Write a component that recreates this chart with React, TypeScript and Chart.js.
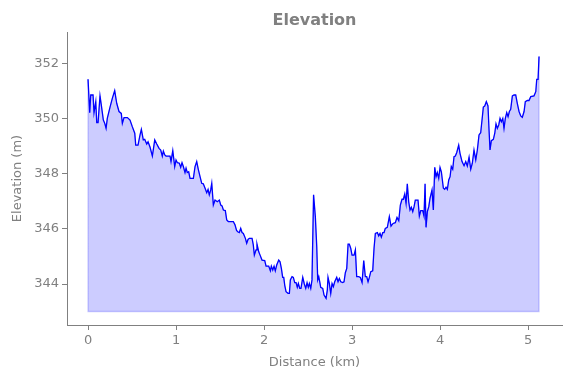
import React, { useEffect, useRef } from "react";
import { Chart, registerables } from "chart.js";

Chart.register(...registerables);

const distanceKm = [
  0, 0.019, 0.031, 0.057, 0.068, 0.088, 0.099, 0.114, 0.136, 0.151, 0.174, 0.19, 0.205, 0.219, 0.25,
  0.276, 0.303, 0.326, 0.352, 0.378, 0.39, 0.409, 0.447, 0.477, 0.503, 0.531, 0.542, 0.568, 0.591,
  0.606, 0.628, 0.644, 0.667, 0.682, 0.705, 0.731, 0.758, 0.781, 0.807, 0.826, 0.844, 0.856, 0.872,
  0.886, 0.932, 0.943, 0.963, 0.985, 1.0, 1.015, 1.038, 1.053, 1.068, 1.083, 1.102, 1.114, 1.128,
  1.144, 1.159, 1.197, 1.216, 1.235, 1.253, 1.273, 1.292, 1.31, 1.33, 1.349, 1.364, 1.378, 1.394,
  1.406, 1.424, 1.443, 1.469, 1.492, 1.508, 1.523, 1.538, 1.56, 1.576, 1.594, 1.651, 1.67, 1.688,
  1.701, 1.719, 1.735, 1.75, 1.765, 1.788, 1.803, 1.818, 1.833, 1.864, 1.878, 1.89, 1.909, 1.92,
  1.94, 1.955, 1.977, 2.008, 2.023, 2.053, 2.072, 2.083, 2.099, 2.114, 2.128, 2.144, 2.167, 2.182,
  2.197, 2.212, 2.224, 2.235, 2.25, 2.273, 2.288, 2.299, 2.318, 2.333, 2.349, 2.364, 2.378, 2.39,
  2.406, 2.42, 2.44, 2.458, 2.474, 2.489, 2.503, 2.515, 2.531, 2.545, 2.563, 2.583, 2.599, 2.61,
  2.622, 2.633, 2.644, 2.667, 2.682, 2.705, 2.719, 2.727, 2.742, 2.758, 2.773, 2.788, 2.803, 2.826,
  2.841, 2.856, 2.872, 2.894, 2.909, 2.924, 2.94, 2.955, 2.969, 2.985, 3.0, 3.023, 3.038, 3.053,
  3.076, 3.094, 3.114, 3.133, 3.151, 3.167, 3.182, 3.197, 3.213, 3.235, 3.25, 3.265, 3.288, 3.303,
  3.318, 3.333, 3.349, 3.364, 3.378, 3.401, 3.424, 3.443, 3.466, 3.492, 3.511, 3.531, 3.549, 3.568,
  3.583, 3.599, 3.614, 3.628, 3.644, 3.659, 3.674, 3.69, 3.705, 3.719, 3.75, 3.765, 3.781, 3.803,
  3.818, 3.83, 3.841, 3.856, 3.872, 3.886, 3.909, 3.924, 3.94, 3.955, 3.969, 3.985, 4.0, 4.015,
  4.038, 4.053, 4.068, 4.083, 4.099, 4.114, 4.128, 4.144, 4.159, 4.174, 4.19, 4.212, 4.227, 4.25,
  4.273, 4.292, 4.31, 4.33, 4.349, 4.367, 4.386, 4.406, 4.424, 4.443, 4.462, 4.481, 4.492, 4.508,
  4.526, 4.545, 4.557, 4.568, 4.583, 4.606, 4.622, 4.636, 4.651, 4.667, 4.682, 4.697, 4.713, 4.727,
  4.742, 4.758, 4.773, 4.788, 4.803, 4.822, 4.841, 4.86, 4.878, 4.898, 4.917, 4.935, 4.955, 4.969,
  4.992, 5.011, 5.031, 5.068, 5.088, 5.099, 5.114, 5.125,
];

const elevationM = [
  351.44, 350.23, 350.87, 350.87, 350.23, 350.63, 349.87, 349.87, 350.84, 350.5, 349.96, 349.84, 349.66, 350.02, 350.43,
  350.75, 351.03, 350.57, 350.27, 350.2, 349.84, 350.05, 350.05, 349.96, 349.72, 349.48, 349.05, 349.05, 349.42,
  349.62, 349.24, 349.26, 349.09, 349.17, 348.97, 348.65, 349.24, 349.09, 348.93, 348.87, 348.65, 348.83, 348.69,
  348.65, 348.65, 348.45, 348.85, 348.27, 348.51, 348.41, 348.39, 348.24, 348.41, 348.27, 348.05, 348.21, 348.05,
  348.08, 347.84, 347.84, 348.27, 348.45, 348.17, 347.9, 347.66, 347.64, 347.48, 347.32, 347.44, 347.24, 347.42,
  347.66, 346.87, 347.05, 346.99, 347.05, 346.87, 346.84, 346.69, 346.67, 346.33, 346.27, 346.27, 346.15, 345.95,
  345.9, 345.87, 346.02, 345.87, 345.84, 345.66, 345.48, 345.62, 345.66, 345.66, 345.42, 345.05, 345.24, 345.45,
  345.17, 345.05, 344.87, 344.85, 344.65, 344.65, 344.48, 344.65, 344.51, 344.65, 344.48, 344.69, 344.87, 344.81,
  344.57, 344.24, 344.24, 343.96, 343.72, 343.66, 343.66, 344.15, 344.27, 344.24, 344.05, 344.05, 343.88, 344.02,
  343.84, 343.84, 344.24, 344.0, 343.84, 344.05, 343.88, 344.02, 343.84, 344.15, 347.24, 346.45, 345.36, 344.15,
  344.27, 344.08, 343.88, 343.84, 343.6, 343.48, 343.78, 344.24, 344.02, 343.66, 344.02, 343.9, 344.08, 344.24,
  344.08, 344.2, 344.08, 344.05, 344.08, 344.41, 344.57, 345.45, 345.45, 345.3, 345.05, 345.05, 345.24, 344.27,
  344.27, 344.24, 344.05, 344.85, 344.27, 344.27, 344.08, 344.24, 344.45, 344.48, 345.3, 345.84, 345.87, 345.75,
  345.84, 345.7, 345.87, 345.87, 346.02, 346.06, 346.45, 346.1, 346.2, 346.23, 346.42, 346.3, 346.87, 347.08,
  347.08, 347.27, 346.93, 347.64, 346.99, 346.69, 346.79, 346.63, 346.81, 347.05, 347.05, 346.47, 346.67, 346.67,
  346.47, 347.64, 346.06, 346.63, 346.81, 347.11, 347.42, 346.69, 348.24, 347.9, 348.05, 347.84, 348.24, 348.08,
  347.48, 347.44, 347.52, 347.44, 347.78, 347.9, 348.27, 348.17, 348.63, 348.65, 348.78, 349.05, 348.75, 348.45,
  348.3, 348.45, 348.29, 348.61, 348.17, 348.39, 348.87, 348.51, 348.87, 349.42, 349.5, 350.08, 350.43, 350.47,
  350.63, 350.47, 349.6, 348.87, 349.21, 349.26, 349.48, 349.82, 349.66, 349.78, 350.02, 349.9, 350.02, 349.66,
  350.02, 350.23, 350.08, 350.27, 350.35, 350.84, 350.87, 350.87, 350.57, 350.27, 350.11, 350.06, 350.27, 350.63,
  350.67, 350.67, 350.81, 350.84, 350.99, 351.44, 351.44, 352.27,
];

const baseElevation = 343;
const xTickValues = [0, 1, 2, 3, 4, 5];
const yTickValues = [344, 346, 348, 350, 352];

const titleText = "Elevation";
const xLabel = "Distance (km)";
const yLabel = "Elevation (m)";

const GRAY = "#808080";
const FONT = "'DejaVu Sans', sans-serif";

const titlePlugin = {
  id: "centeredTitle",
  afterDraw(chart: any) {
    const { ctx, chartArea } = chart;
    ctx.save();
    ctx.font = `bold 16px ${FONT}`;
    ctx.fillStyle = GRAY;
    ctx.textAlign = "center";
    ctx.textBaseline = "alphabetic";
    ctx.fillText(titleText, (chartArea.left + chartArea.right) / 2, 25);
    ctx.restore();
  },
};

export default function App() {
  const canvasRef = useRef<HTMLCanvasElement>(null);

  useEffect(() => {
    document.body.style.margin = "0";
    const points = distanceKm.map((d, i) => ({ x: d, y: elevationM[i] }));
    const last = distanceKm.length - 1;
    const edges = [
      { x: distanceKm[0], y: elevationM[0] },
      { x: distanceKm[0], y: baseElevation },
      { x: distanceKm[last], y: baseElevation },
      { x: distanceKm[last], y: elevationM[last] },
    ];
    const chart = new Chart(canvasRef.current!, {
      type: "line",
      data: {
        datasets: [
          {
            data: points,
            borderColor: "#0000ff",
            borderWidth: 1.3,
            pointRadius: 0,
            fill: false,
            tension: 0,
          },
          {
            data: edges,
            borderColor: "rgba(0,0,255,0.2)",
            borderWidth: 1.3,
            pointRadius: 0,
            fill: false,
            tension: 0,
          },
          {
            data: points,
            borderColor: "rgba(0,0,255,0.2)",
            backgroundColor: "rgba(0,0,255,0.2)",
            borderWidth: 1,
            pointRadius: 0,
            fill: { value: baseElevation },
            tension: 0,
          },
        ],
      },
      options: {
        animation: false,
        responsive: false,
        maintainAspectRatio: false,
        layout: { padding: { left: 0, right: 9, top: 32, bottom: 0 } },
        plugins: {
          legend: { display: false },
          title: { display: false },
          tooltip: { enabled: false },
        },
        scales: {
          x: {
            type: "linear",
            min: -0.239,
            max: 5.386,
            afterBuildTicks: (s: any) => {
              s.ticks = xTickValues.map((v) => ({ value: v }));
            },
            afterFit: (s: any) => {
              s.height = 53;
            },
            grid: {
              display: true,
              drawOnChartArea: false,
              drawTicks: true,
              tickLength: 5,
              color: GRAY,
            },
            border: { display: true, color: GRAY, width: 1 },
            ticks: {
              color: GRAY,
              font: { family: FONT, size: 13 },
              padding: 3,
              maxRotation: 0,
              callback: (v: any) => String(v),
            },
            title: {
              display: true,
              text: xLabel,
              color: GRAY,
              font: { family: FONT, size: 13 },
              padding: { top: 2, bottom: 8 },
            },
          },
          y: {
            type: "linear",
            min: 342.51,
            max: 353.16,
            afterBuildTicks: (s: any) => {
              s.ticks = yTickValues.map((v) => ({ value: v }));
            },
            afterFit: (s: any) => {
              s.width = 67;
            },
            grid: {
              display: true,
              drawOnChartArea: false,
              drawTicks: true,
              tickLength: 5,
              color: GRAY,
            },
            border: { display: true, color: GRAY, width: 1 },
            ticks: {
              color: GRAY,
              font: { family: FONT, size: 13 },
              padding: 3,
              callback: (v: any) => String(v),
            },
            title: {
              display: true,
              text: yLabel,
              color: GRAY,
              font: { family: FONT, size: 13 },
              padding: { top: 10, bottom: 0 },
            },
          },
        },
      },
      plugins: [titlePlugin],
    });
    return () => chart.destroy();
  }, []);

  return (
    <div style={{ position: "absolute", left: 0, top: 0, width: 571, height: 378 }}>
      <canvas ref={canvasRef} width={571} height={378} style={{ width: 571, height: 378 }} />
    </div>
  );
}
